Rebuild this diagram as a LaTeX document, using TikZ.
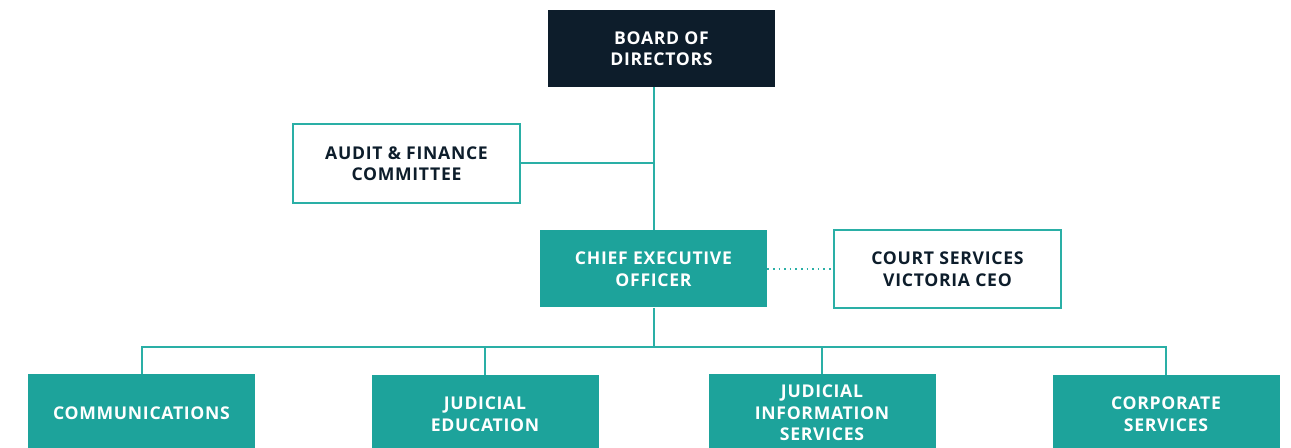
\documentclass[tikz,border=0pt]{standalone}
\usepackage{fontspec}
\setmainfont[LetterSpace=4]{Open Sans}
\definecolor{navy}{HTML}{0D1D2B}
\definecolor{jteal}{HTML}{1DA39B}
\definecolor{jline}{HTML}{2AAFA6}

\tikzstyle{every node}+=[font=\bfseries\fontsize{8.8}{10.75}\selectfont,align=center,
  minimum width=113.5pt,minimum height=38.5pt,inner sep=0pt]
\tikzstyle{darkbox}=[fill=navy,text=white]
\tikzstyle{tealbox}=[fill=jteal,text=white]
\tikzstyle{openbox}=[draw=jline,line width=1pt,text=navy,fill=white]
\tikzstyle{link}=[draw=jline,line width=1pt]
\tikzstyle{dotlink}=[draw=jline,line width=0.8pt,dotted]

\begin{document}
\begin{tikzpicture}[x=0.5pt,y=-0.5pt]

\clip (0,0) rectangle (1291,448);
\fill[white] (0,0) rectangle (1291,448);

% top of the chart
\node[darkbox] (board) at (661.5,48.5) {BOARD OF\\DIRECTORS};
\node[openbox,minimum height=39.5pt] (audit) at (406.5,163.5) {AUDIT \& FINANCE\\COMMITTEE};
\node[tealbox] (ceo) at (653.5,269) {CHIEF EXECUTIVE\\OFFICER};
\node[openbox,minimum height=39pt] (court) at (947.5,269) {COURT SERVICES\\VICTORIA CEO};

% divisions
\node[tealbox] (comm) at (141.5,413) {COMMUNICATIONS};
\node[tealbox] (educ) at (485,414) {JUDICIAL\\EDUCATION};
\node[tealbox] (jis) at (822,413) {JUDICIAL\\INFORMATION\\SERVICES};
\node[tealbox] (corp) at (1166,414) {CORPORATE\\SERVICES};

\draw[link] (ceo.north) -- (ceo.north |- board.south);
\draw[link] (audit.east) -- (audit.east -| ceo.north);
\draw[dotlink] (ceo.east) -- (court.west);

\coordinate (bus) at (653.5,347);
\draw[link] (ceo.south) -- (bus);
\draw[link] (comm.north) |- (bus) -| (corp.north);
\draw[link] (educ.north) -- (educ.north |- bus);
\draw[link] (jis.north) -- (jis.north |- bus);
\end{tikzpicture}
\end{document}
